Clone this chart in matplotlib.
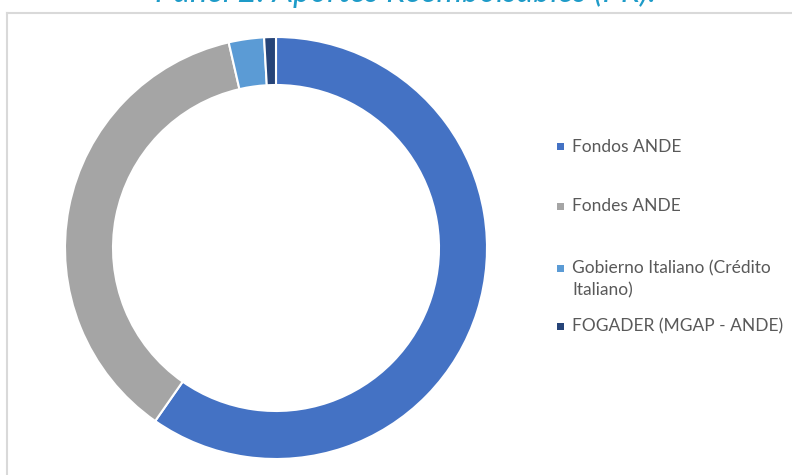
import matplotlib.pyplot as plt
from matplotlib.lines import Line2D
from matplotlib.patches import Rectangle

labels = ['Fondos ANDE', 'Fondes ANDE', 'Gobierno Italiano (Crédito\nItaliano)', 'FOGADER (MGAP - ANDE)']
values = [59.7, 36.7, 2.7, 0.9]
colors = ['#4472C4', '#A5A5A5', '#5B9BD5', '#264478']

W, H = 792, 475
fig = plt.figure(figsize=(W / 100, H / 100), dpi=100)

# donut
cx, cy, r = 276, 248, 211
ax = fig.add_axes([(cx - r) / W, (H - cy - r) / H, 2 * r / W, 2 * r / H])
ax.pie(values, colors=colors, startangle=90, counterclock=False,
       wedgeprops=dict(width=48 / r, edgecolor='white', linewidth=1.5))
ax.set_xlim(-1, 1)
ax.set_ylim(-1, 1)
ax.set_aspect('equal')
ax.axis('off')

# chart border (only top and left visible)
fig.add_artist(Line2D([7 / W, 7 / W], [0, 1 - 13 / H], color='#D9D9D9', lw=1.5,
                      transform=fig.transFigure))
fig.add_artist(Line2D([7 / W, 1], [1 - 13 / H, 1 - 13 / H], color='#D9D9D9', lw=1.5,
                      transform=fig.transFigure))

# title, clipped by the top edge
fig.text(405 / W, 1 - 2 / H, 'Panel 2: Aportes Reembolsables (PR).', ha='center',
         va='baseline', fontsize=23.5, style='italic', color='#1E9BC8', family='Lato')

# legend
ys = [147, 206, 268, 326]
for lab, col, y in zip(labels, colors, ys):
    fig.add_artist(Rectangle(((557) / W, 1 - (y + 3.5) / H), 7 / W, 7 / H,
                             facecolor=col, edgecolor='none', transform=fig.transFigure))
    fig.text(572 / W, 1 - (y - 8) / H, lab, ha='left', va='top', fontsize=12.5,
             color='#595959', family='Lato', linespacing=1.45)

fig.savefig('out.png', dpi=100)
